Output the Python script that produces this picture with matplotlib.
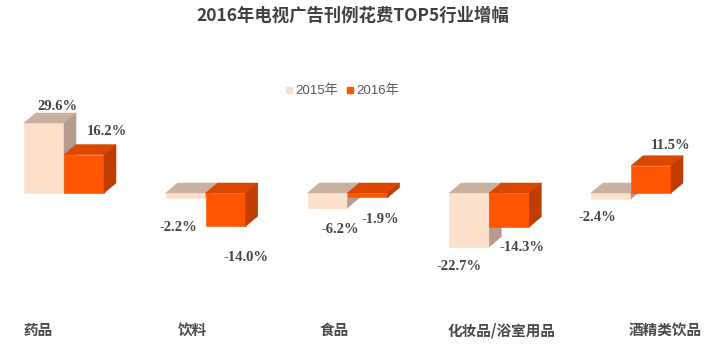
import numpy as np
import matplotlib.pyplot as plt
from matplotlib.patches import Polygon
from matplotlib.lines import Line2D

plt.rcParams['font.family'] = ['Noto Sans CJK SC', 'DejaVu Sans']

# datos
categorias = ['药品', '饮料', '食品', '化妆品/浴室用品', '酒精类饮品']
series = ['2015年', '2016年']
valores_2015 = [29.6, -2.2, -6.2, -22.7, -2.4]
valores_2016 = [16.2, -14.0, -1.9, -14.3, 11.5]
etiquetas_2015 = ['29.6%', '-2.2%', '-6.2%', '-22.7%', '-2.4%']
etiquetas_2016 = ['16.2%', '-14.0%', '-1.9%', '-14.3%', '11.5%']

# estilos (colores: frente, arriba, lado)
colores = [('#FDE0CB', '#C9B09F', '#B49D8E'),
           ('#FF5500', '#DA4800', '#BF3D00')]
# desplazamiento de etiquetas (pixeles) y de nombres de categoria
nudge_lbl = [[(1, -6), (-7, 29), (13, 22), (-10, 20), (-14, 19)],
             [(11, -13), (20, 31), (13, 22), (13, 21), (8, -10)]]
nudge_cat = [-26, -13, -13, 12, 34]

W, H = 720, 354
fig = plt.figure(figsize=(W / 100, H / 100), dpi=100)
ax = fig.add_axes([0, 0, 1, 1])
ax.axis('off')

# escalas: 141.75 px por grupo, 2.365 px por punto porcentual
px_x = 141.75
px_y = 2.365
x0_px, y0_px = 64, 193
ax.set_xlim(-x0_px / px_x, (W - x0_px) / px_x)
ax.set_ylim(-(H - y0_px) / px_y, y0_px / px_y)

ancho = 40 / px_x
dx = 12 / px_x
dy = 10 / px_y


def caja(x0, v, cols):
    lo, hi = min(0, v), max(0, v)
    frente = [(x0, lo), (x0 + ancho, lo), (x0 + ancho, hi), (x0, hi)]
    arriba = [(x0, hi), (x0 + ancho, hi), (x0 + ancho + dx, hi + dy), (x0 + dx, hi + dy)]
    lado = [(x0 + ancho, lo), (x0 + ancho + dx, lo + dy), (x0 + ancho + dx, hi + dy), (x0 + ancho, hi)]
    for pts, c in zip([frente, arriba, lado], cols):
        ax.add_patch(Polygon(pts, closed=True, facecolor=c, edgecolor=c, linewidth=0.4))


for i, cat in enumerate(categorias):
    for s, vals in enumerate([valores_2015, valores_2016]):
        v = vals[i]
        xl = i - ancho + s * ancho
        caja(xl, v, colores[s])
        if v >= 0:
            anchor = (xl + ancho / 2 + dx, v + dy)
        else:
            anchor = (xl + ancho / 2, v)
        lbl = [etiquetas_2015, etiquetas_2016][s][i]
        ndx, ndy = nudge_lbl[s][i]
        ax.annotate(lbl, anchor, xytext=(ndx, -ndy), textcoords='offset pixels',
                    ha='center', va='center', fontsize=10.5, fontweight='bold',
                    family='Liberation Serif', color='#444444')
    ax.annotate(cat, (i, 0), xytext=(nudge_cat[i], -137), textcoords='offset pixels',
                ha='center', va='center', fontsize=10.5, fontweight='bold', color='#4a4a4a')

fig.text(353 / W, 1 - 16 / H, '2016年电视广告刊例花费TOP5行业增幅', ha='center', va='center',
         fontsize=12.5, fontweight='bold', color='#404040')

handles = [Line2D([], [], marker='s', linestyle='none', markersize=5,
                  markerfacecolor=colores[k][0], markeredgecolor=colores[k][0]) for k in range(2)]
fig.legend(handles, series, loc='center', bbox_to_anchor=(342 / W, 1 - 91 / H), ncol=2,
           frameon=False, handletextpad=0.2, columnspacing=0.6,
           handlelength=0.6, labelcolor='#595959',
           prop={'family': ['Liberation Sans', 'Noto Sans CJK SC'], 'size': 9.5})

fig.savefig('out.png', dpi=100, facecolor='white')
